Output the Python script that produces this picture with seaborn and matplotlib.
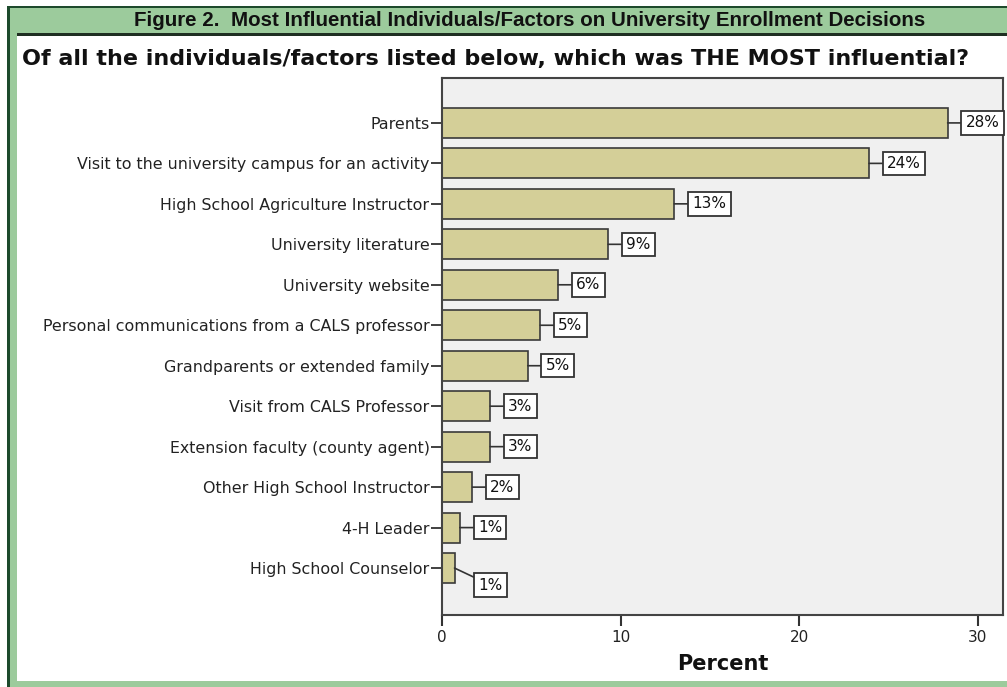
import matplotlib
matplotlib.use("Agg")
import matplotlib.pyplot as plt
import seaborn as sns
import pandas as pd
from matplotlib.patches import Rectangle

categories = [
    "Parents",
    "Visit to the university campus for an activity",
    "High School Agriculture Instructor",
    "University literature",
    "University website",
    "Personal communications from a CALS professor",
    "Grandparents or extended family",
    "Visit from CALS Professor",
    "Extension faculty (county agent)",
    "Other High School Instructor",
    "4-H Leader",
    "High School Counselor",
]
percent = [28.3, 23.9, 13.0, 9.3, 6.5, 5.5, 4.8, 2.7, 2.7, 1.7, 1.0, 0.7]
value_labels = ["28%", "24%", "13%", "9%", "6%", "5%", "5%", "3%", "3%", "2%", "1%", "1%"]
xticks = [0, 10, 20, 30]

title = "Figure 2.  Most Influential Individuals/Factors on University Enrollment Decisions"
subtitle = "Of all the individuals/factors listed below, which was THE MOST influential?"

df = pd.DataFrame({"Factor": categories, "Percent": percent})

sns.set_theme(style="white")
plt.rcParams["font.family"] = ["DejaVu Sans"]

W, H = 1007, 687
fig = plt.figure(figsize=(W / 100, H / 100), dpi=100)
fig.patch.set_facecolor("white")

def fr(x0, y0, x1, y1, color, z=0):
    # pixel coords (top-left origin) -> figure fraction
    fig.add_artist(Rectangle((x0 / W, 1 - y1 / H), (x1 - x0) / W, (y1 - y0) / H,
                             transform=fig.transFigure, facecolor=color,
                             edgecolor="none", zorder=z))

green = "#9ccb9c"
dark = "#1d4a2c"
fr(8, 6, W, 36, green)          # header band
fr(8, 6, 17, H, green)          # left band
fr(8, 681, W, H, green)         # bottom band
fr(7, 6, W, 8, dark)            # top dark line
fr(7, 6, 10, H, dark)           # left dark line
fr(17, 33, W, 36, "#1f2f22")    # line under header

fig.text(530 / W, 1 - 21 / H, title, ha="center", va="center", fontsize=14.8,
         fontweight="bold", color="#111111", family=["Liberation Sans", "DejaVu Sans"])
fig.text(22 / W, 1 - 59 / H, subtitle, ha="left", va="center", fontsize=16.0,
         fontweight="bold", color="#111111")

ax = fig.add_axes([442 / W, 1 - 615 / H, (1003 - 442) / W, (615 - 78) / H])
sns.barplot(data=df, x="Percent", y="Factor", orient="h", color="#d4cf98",
            saturation=1, edgecolor="#3a3a3a", linewidth=1.2, width=0.74, ax=ax)
ax.set_facecolor("#f0f0f0")
ax.set_xlim(0, 31.4)
ax.set_ylim(12.16, -1.11)
ax.set_xticks(xticks)
ax.set_xticklabels([str(t) for t in xticks], fontsize=11, color="#222222")
ax.tick_params(axis="y", labelsize=11.4, labelcolor="#222222", length=8,
               width=1.3, color="#333333", left=True, direction="out", pad=1)
ax.tick_params(axis="x", length=8, width=1.5, color="#333333", bottom=True,
               direction="out", pad=3)
ax.set_ylabel("")
ax.set_xlabel("Percent", fontsize=15, fontweight="bold", color="#111111", labelpad=6)
for s in ax.spines.values():
    s.set_color("#444444")
    s.set_linewidth(1.5)

for i, (v, lab) in enumerate(zip(percent, value_labels)):
    dx, dy = 18, 0
    if i == len(percent) - 1:
        dx, dy = 24, -17
    ax.annotate(lab, xy=(v, i), xytext=(dx, dy), textcoords="offset pixels",
                ha="left", va="center", fontsize=11, color="#111111",
                annotation_clip=False,
                bbox=dict(boxstyle="square,pad=0.28", facecolor="white",
                          edgecolor="#333333", linewidth=1.3),
                arrowprops=dict(arrowstyle="-", color="#333333", lw=1.2,
                                shrinkA=0, shrinkB=0))

fig.savefig("out.png", dpi=100)
